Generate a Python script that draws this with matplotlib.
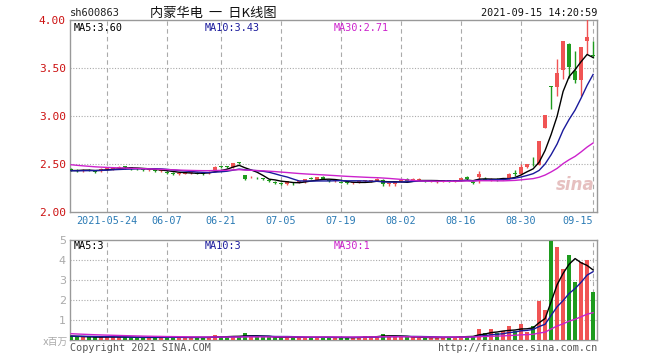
import matplotlib
matplotlib.use('Agg')
import matplotlib.pyplot as plt
import numpy as np
import pandas as pd

plt.rcParams['font.family'] = ['DejaVu Sans Mono', 'Noto Sans CJK SC']

# trading days 2021-05-14 .. 2021-09-15 (06-14 was a holiday)
days = pd.bdate_range('2021-05-14', '2021-09-15')
days = days[days != pd.Timestamp('2021-06-14')]

opens = [2.45, 2.44, 2.43, 2.44, 2.43, 2.43, 2.45, 2.45, 2.46, 2.47,
         2.46, 2.45, 2.45, 2.44, 2.44, 2.43, 2.42, 2.41, 2.40, 2.40,
         2.41, 2.41, 2.41, 2.41, 2.44, 2.475, 2.475, 2.47, 2.515, 2.385,
         2.36, 2.355, 2.345, 2.33, 2.31, 2.30, 2.29, 2.30, 2.31, 2.31,
         2.35, 2.33, 2.36, 2.32, 2.32, 2.31, 2.305, 2.30, 2.31, 2.32,
         2.32, 2.325, 2.33, 2.29, 2.29, 2.32, 2.34, 2.33, 2.33, 2.32,
         2.32, 2.31, 2.32, 2.32, 2.32, 2.33, 2.36, 2.305, 2.36, 2.34,
         2.33, 2.335, 2.335, 2.35, 2.40, 2.396, 2.47, 2.49, 2.49, 2.88,
         3.31, 3.30, 3.48, 3.75, 3.47, 3.375, 3.785, 3.64]
highs = [2.46, 2.45, 2.45, 2.45, 2.44, 2.46, 2.47, 2.47, 2.48, 2.48,
         2.47, 2.46, 2.46, 2.45, 2.45, 2.44, 2.43, 2.42, 2.41, 2.42,
         2.42, 2.42, 2.42, 2.43, 2.48, 2.48, 2.48, 2.51, 2.52, 2.39,
         2.37, 2.36, 2.35, 2.34, 2.32, 2.31, 2.32, 2.31, 2.32, 2.34,
         2.36, 2.36, 2.37, 2.33, 2.33, 2.32, 2.31, 2.31, 2.32, 2.33,
         2.33, 2.35, 2.34, 2.30, 2.32, 2.33, 2.35, 2.35, 2.35, 2.33,
         2.33, 2.32, 2.33, 2.33, 2.33, 2.35, 2.37, 2.32, 2.43, 2.36,
         2.35, 2.35, 2.35, 2.41, 2.44, 2.50, 2.50, 2.57, 2.74, 3.01,
         3.31, 3.59, 3.78, 3.76, 3.68, 3.715, 4.05, 3.785]
lows = [2.43, 2.42, 2.42, 2.43, 2.41, 2.42, 2.44, 2.44, 2.45, 2.45,
        2.44, 2.44, 2.43, 2.43, 2.42, 2.42, 2.40, 2.39, 2.39, 2.40,
        2.40, 2.40, 2.39, 2.40, 2.43, 2.46, 2.46, 2.46, 2.50, 2.33,
        2.35, 2.34, 2.33, 2.31, 2.29, 2.28, 2.28, 2.28, 2.30, 2.30,
        2.34, 2.33, 2.34, 2.31, 2.31, 2.30, 2.29, 2.29, 2.30, 2.31,
        2.31, 2.32, 2.27, 2.27, 2.27, 2.31, 2.31, 2.32, 2.32, 2.31,
        2.31, 2.30, 2.31, 2.31, 2.31, 2.32, 2.33, 2.29, 2.30, 2.33,
        2.32, 2.32, 2.33, 2.34, 2.37, 2.39, 2.46, 2.48, 2.49, 2.87,
        3.07, 3.21, 3.39, 3.40, 3.34, 3.21, 3.65, 3.60]
closes = [2.44, 2.43, 2.44, 2.43, 2.42, 2.45, 2.46, 2.46, 2.46, 2.465,
          2.455, 2.45, 2.44, 2.44, 2.43, 2.43, 2.41, 2.40, 2.40, 2.41,
          2.41, 2.40, 2.40, 2.42, 2.47, 2.47, 2.47, 2.51, 2.51, 2.34,
          2.36, 2.35, 2.34, 2.32, 2.30, 2.295, 2.32, 2.30, 2.31, 2.34,
          2.345, 2.36, 2.345, 2.32, 2.32, 2.305, 2.30, 2.305, 2.31, 2.32,
          2.325, 2.345, 2.29, 2.295, 2.32, 2.32, 2.32, 2.34, 2.34, 2.32,
          2.32, 2.315, 2.325, 2.32, 2.32, 2.35, 2.34, 2.30, 2.40, 2.335,
          2.34, 2.335, 2.335, 2.395, 2.395, 2.472, 2.50, 2.485, 2.74, 3.01,
          3.30, 3.45, 3.78, 3.51, 3.375, 3.715, 3.826, 3.62]
# volume in millions of shares
volumes = [0.18, 0.15, 0.15, 0.13, 0.13, 0.15, 0.18, 0.15, 0.13, 0.15,
           0.12, 0.12, 0.12, 0.13, 0.15, 0.13, 0.13, 0.15, 0.13, 0.12,
           0.12, 0.13, 0.13, 0.15, 0.25, 0.15, 0.15, 0.20, 0.18, 0.35,
           0.18, 0.15, 0.13, 0.13, 0.13, 0.13, 0.15, 0.13, 0.12, 0.15,
           0.13, 0.15, 0.13, 0.12, 0.12, 0.12, 0.12, 0.13, 0.15, 0.18,
           0.18, 0.20, 0.30, 0.18, 0.18, 0.15, 0.13, 0.13, 0.12, 0.12,
           0.12, 0.12, 0.15, 0.15, 0.15, 0.20, 0.20, 0.20, 0.55, 0.35,
           0.55, 0.35, 0.45, 0.70, 0.45, 0.80, 0.40, 0.70, 1.97, 1.50,
           4.97, 4.67, 3.55, 4.25, 2.92, 3.92, 4.00, 2.42]

# closes / volumes before the first visible day, only used to start the moving averages
warmup_close = [2.62, 2.60, 2.58, 2.57, 2.55, 2.55, 2.54, 2.53, 2.52, 2.52,
                2.51, 2.51, 2.50, 2.50, 2.49, 2.49, 2.48, 2.48, 2.47, 2.46,
                2.44, 2.43, 2.42, 2.42, 2.43, 2.43, 2.42, 2.43, 2.44]
warmup_vol = [0.60, 0.55, 0.50, 0.50, 0.45, 0.45, 0.40, 0.40, 0.40, 0.35,
              0.35, 0.35, 0.30, 0.30, 0.30, 0.30, 0.25, 0.25, 0.25, 0.25,
              0.20, 0.20, 0.18, 0.20, 0.20, 0.22, 0.20, 0.18, 0.20]

tick_dates = ['2021-05-24', '2021-06-07', '2021-06-21', '2021-07-05', '2021-07-19',
              '2021-08-02', '2021-08-16', '2021-08-30', '2021-09-15']
tick_labels = ['2021-05-24', '06-07', '06-21', '07-05', '07-19', '08-02', '08-16', '08-30', '09-15']

price_ma_labels = ['MA5:3.60', 'MA10:3.43', 'MA30:2.71']
vol_ma_labels = ['MA5:3', 'MA10:3', 'MA30:1']
ma_windows = [5, 10, 30]
ma_colors = ['#000000', '#1a1a9c', '#cc22cc']

UP = '#f05454'
DOWN = '#1e9b1e'
FRAME = '#999999'

n = len(closes)
x = np.arange(n)
o = np.array(opens)
c = np.array(closes)
h = np.array(highs)
l = np.array(lows)
v = np.array(volumes)

prev = np.concatenate([[warmup_close[-1]], c[:-1]])
up = (c > o) | ((c == o) & (c >= prev))
colors = np.where(up, UP, DOWN)

full_close = pd.Series(warmup_close + closes)
full_vol = pd.Series(warmup_vol + volumes)
k = len(warmup_close)

fig = plt.figure(figsize=(6.6, 3.6), dpi=100)
W, H = 660, 360
ax = fig.add_axes([70 / W, 1 - 212 / H, 527 / W, 192 / H])
axv = fig.add_axes([70 / W, 1 - 340 / H, 527 / W, 100 / H])

tick_pos = [list(days.strftime('%Y-%m-%d')).index(d) for d in tick_dates]

# candles
ax.vlines(x, l, h, colors=colors, linewidth=1, zorder=3)
body = np.maximum(np.abs(c - o), 0.009)
ax.bar(x, body, bottom=np.minimum(o, c), width=0.72, color=colors, linewidth=0, zorder=4)
for w, col in zip(ma_windows, ma_colors):
    ma = full_close.rolling(w).mean().values[k:]
    ax.plot(x, ma, color=col, linewidth=1, zorder=5)

# volume
axv.bar(x, v, width=0.75, color=colors, linewidth=0, zorder=3)
for w, col in zip(ma_windows, ma_colors):
    ma = full_vol.rolling(w).mean().values[k:]
    axv.plot(x, ma, color=col, linewidth=1, zorder=4)

for a in (ax, axv):
    a.set_xlim(-0.2, n - 0.35)
    for s in a.spines.values():
        s.set_color(FRAME)
        s.set_linewidth(1)
    for p in tick_pos:
        a.axvline(p, color='#aaaaaa', linewidth=0.8, linestyle=(0, (4, 3)), zorder=1)
    a.tick_params(length=0)

ax.set_ylim(2.0, 4.0)
ax.set_yticks([2.0, 2.5, 3.0, 3.5, 4.0])
ax.set_yticklabels(['%.2f' % t for t in [2.0, 2.5, 3.0, 3.5, 4.0]], color='#cc1111', fontsize=8)
for t in [2.5, 3.0, 3.5]:
    ax.axhline(t, color='#aaaaaa', linewidth=0.8, linestyle=(0, (1, 1.5)), zorder=1)
ax.set_xticks(tick_pos)
ax.set_xticklabels(tick_labels, color='#2b7bb5', fontsize=7.3)
ax.tick_params(axis='x', pad=3)
ax.tick_params(axis='y', pad=3)
ax.get_xticklabels()[-1].set_ha('right')
ax.get_xticklabels()[-1].set_x(tick_pos[-1])

axv.set_ylim(0, 5)
axv.set_yticks([1, 2, 3, 4, 5])
axv.set_yticklabels(['1', '2', '3', '4', '5'], color='#aaaaaa', fontsize=8, family='DejaVu Sans')
axv.tick_params(axis='y', pad=3)
axv.set_xticks([])
for t in [1, 2, 3, 4]:
    axv.axhline(t, color='#aaaaaa', linewidth=0.8, linestyle=(0, (1, 1.5)), zorder=1)

# moving average captions
for lab, col, px in zip(price_ma_labels, ma_colors, [74, 205, 334]):
    fig.text(px / W, 1 - 28 / H, lab, color=col, fontsize=7.3, va='center')
for lab, col, px in zip(vol_ma_labels, ma_colors, [74, 205, 334]):
    fig.text(px / W, 1 - 246 / H, lab, color=col, fontsize=7.3, va='center')

fig.text(70 / W, 1 - 13 / H, 'sh600863', fontsize=7.5, color='#222222', va='center')
fig.text(213 / W, 1 - 13 / H, '内蒙华电  一  日K线图', fontsize=9.5, color='#111111',
         va='center', ha='center', family=['Noto Sans CJK SC', 'DejaVu Sans'])
fig.text(597 / W, 1 - 13 / H, '2021-09-15 14:20:59', fontsize=7.3, color='#111111',
         va='center', ha='right')
fig.text(68 / W, 1 - 342 / H, 'x百万', fontsize=7, color='#aaaaaa', va='center', ha='right',
         family=['DejaVu Sans', 'Noto Sans CJK SC'])
fig.text(70 / W, 1 - 348 / H, 'Copyright 2021 SINA.COM', fontsize=7.3, color='#555555', va='center')
fig.text(597 / W, 1 - 348 / H, 'http://finance.sina.com.cn', fontsize=7.3, color='#555555',
         va='center', ha='right')
ax.text(0.995, 0.14, 'sina', transform=ax.transAxes, fontsize=12, color='#e6c0c0',
        style='italic', weight='bold', ha='right', va='center', family='DejaVu Sans', zorder=2)

fig.savefig('out.png', dpi=100)
